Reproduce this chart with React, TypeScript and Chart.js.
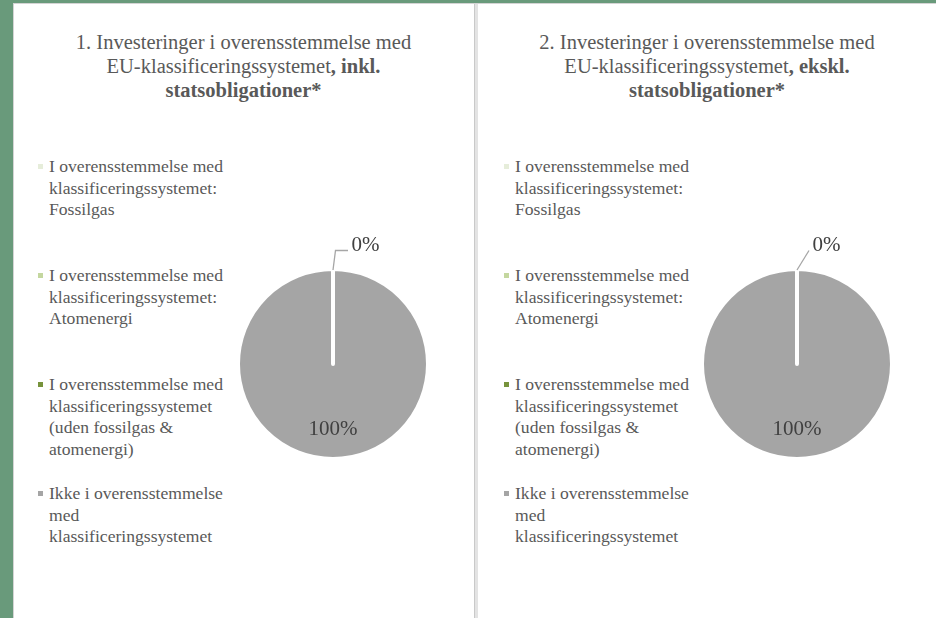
import React, { useEffect, useRef } from "react";
import { Chart, registerables } from "chart.js";

Chart.register(...registerables);

// ---------- data ----------
const categories: string[] = [
  "I overensstemmelse med klassificeringssystemet: Fossilgas",
  "I overensstemmelse med klassificeringssystemet: Atomenergi",
  "I overensstemmelse med klassificeringssystemet (uden fossilgas & atomenergi)",
  "Ikke i overensstemmelse med klassificeringssystemet",
];
const sliceColors: string[] = ["#E6EDDA", "#C4D79F", "#77933C", "#A5A5A5"];
const valuesInkl: number[] = [0, 0, 0, 100];
const valuesEkskl: number[] = [0, 0, 0, 100];

const titleInkl: [string, boolean][][] = [
  [["1. Investeringer i overensstemmelse med", false]],
  [["EU-klassificeringssystemet", false], [", inkl.", true]],
  [["statsobligationer*", true]],
];
const titleEkskl: [string, boolean][][] = [
  [["2. Investeringer i overensstemmelse med", false]],
  [["EU-klassificeringssystemet", false], [", ekskl.", true]],
  [["statsobligationer*", true]],
];

const FONT = "'Liberation Serif', 'Times New Roman', serif";
const TEXT = "#595959";

Chart.defaults.font.family = FONT;

type Leader = { dx: number; h: number };

const sliceLabelPlugin = {
  id: "sliceLabels",
  afterDatasetsDraw(chart: any, _args: any, opts: any) {
    const ctx: CanvasRenderingContext2D = chart.ctx;
    const meta = chart.getDatasetMeta(0);
    const data = chart.data.datasets[0].data as number[];
    const total = data.reduce((a, b) => a + b, 0) || 1;
    const leader: Leader = opts.leader || { dx: 3, h: 12 };
    const seen = new Set<string>();
    ctx.save();
    ctx.font = `21px ${FONT}`;
    ctx.fillStyle = "#404040";
    meta.data.forEach((arc: any, i: number) => {
      const p = arc.getProps(["x", "y", "startAngle", "endAngle", "outerRadius"], true);
      const text = Math.round((data[i] / total) * 100) + "%";
      const mid = (p.startAngle + p.endAngle) / 2;
      const span = p.endAngle - p.startAngle;
      if (span < 0.3) {
        const key = mid.toFixed(3);
        if (seen.has(key)) return;
        seen.add(key);
        const px = p.x + Math.cos(mid) * p.outerRadius;
        const py = p.y + Math.sin(mid) * p.outerRadius;
        const x1 = px + leader.dx;
        const y1 = py - 18.5;
        const x2 = x1 + leader.h;
        ctx.beginPath();
        ctx.strokeStyle = "#A6A6A6";
        ctx.lineWidth = 1.3;
        ctx.moveTo(px, py + 1);
        ctx.lineTo(x1, y1);
        ctx.lineTo(x2, y1);
        ctx.stroke();
        ctx.textAlign = "left";
        ctx.textBaseline = "middle";
        ctx.fillText(text, x2 + 3.5, y1 - 5.5);
      } else {
        const r = p.outerRadius * 0.69;
        ctx.textAlign = "center";
        ctx.textBaseline = "middle";
        ctx.fillText(text, p.x + Math.cos(mid) * r, p.y + Math.sin(mid) * r);
      }
    });
    ctx.restore();
  },
};

function Pie({ values, left, top, leader }: { values: number[]; left: number; top: number; leader: Leader }) {
  const ref = useRef<HTMLCanvasElement | null>(null);
  useEffect(() => {
    if (!ref.current) return;
    const chart = new Chart(ref.current, {
      type: "pie",
      data: {
        labels: categories,
        datasets: [
          {
            data: values,
            backgroundColor: sliceColors,
            borderColor: "#FFFFFF",
            borderWidth: 4,
            borderJoinStyle: "round",
          },
        ],
      },
      options: {
        responsive: false,
        animation: false,
        devicePixelRatio: 1,
        layout: { padding: { left: 33, right: 33, top: 53, bottom: 53 } },
        plugins: {
          legend: { display: false },
          tooltip: { enabled: false },
          title: { display: false },
          sliceLabels: { leader },
        } as any,
      },
      plugins: [sliceLabelPlugin],
    } as any);
    return () => chart.destroy();
  }, [values, leader]);
  return (
    <canvas
      ref={ref}
      width={260}
      height={300}
      style={{ position: "absolute", left, top, width: 260, height: 300 }}
    />
  );
}

function Title({ lines, left, width }: { lines: [string, boolean][][]; left: number; width: number }) {
  return (
    <div
      style={{
        position: "absolute",
        left,
        top: 30,
        width,
        textAlign: "center",
        fontFamily: FONT,
        fontSize: 20.5,
        lineHeight: "24px",
        color: TEXT,
        whiteSpace: "nowrap",
      }}
    >
      {lines.map((segs, i) => (
        <div key={i}>
          {segs.map(([t, b], j) => (
            <span key={j} style={{ fontWeight: b ? 700 : 400 }}>
              {t}
            </span>
          ))}
        </div>
      ))}
    </div>
  );
}

function Legend({ left }: { left: number }) {
  return (
    <>
      {categories.map((c, i) => (
        <div
          key={i}
          style={{
            position: "absolute",
            left,
            top: 156 + i * 109,
            width: 190,
            fontFamily: FONT,
            fontSize: 17.6,
            lineHeight: "21.5px",
            color: TEXT,
          }}
        >
          <span
            style={{
              position: "absolute",
              left: -11,
              top: 8,
              width: 5,
              height: 5,
              background: sliceColors[i],
            }}
          />
          {c}
        </div>
      ))}
    </>
  );
}

export default function App() {
  return (
    <div
      style={{
        position: "fixed",
        left: 0,
        top: 0,
        width: 936,
        height: 618,
        overflow: "hidden",
        background: "#699A7B",
      }}
    >
      <div
        style={{
          position: "absolute",
          left: 13,
          top: 3,
          width: 923,
          height: 615,
          background: "#FFFFFF",
          borderTop: "1px solid #D4D4D4",
          borderLeft: "1px solid #D4D4D4",
          boxSizing: "border-box",
        }}
      />
      <div
        style={{
          position: "absolute",
          left: 474,
          top: 4,
          width: 4,
          height: 614,
          background: "#E3E3E3",
          borderLeft: "1px solid #C9C9C9",
          boxSizing: "border-box",
        }}
      />
      <Title lines={titleInkl} left={13} width={461} />
      <Title lines={titleEkskl} left={478} width={458} />
      <Legend left={49} />
      <Legend left={515} />
      <Pie values={valuesInkl} left={203} top={214} leader={{ dx: 2.5, h: 12.5 }} />
      <Pie values={valuesEkskl} left={667} top={214} leader={{ dx: 12, h: 0 }} />
    </div>
  );
}
